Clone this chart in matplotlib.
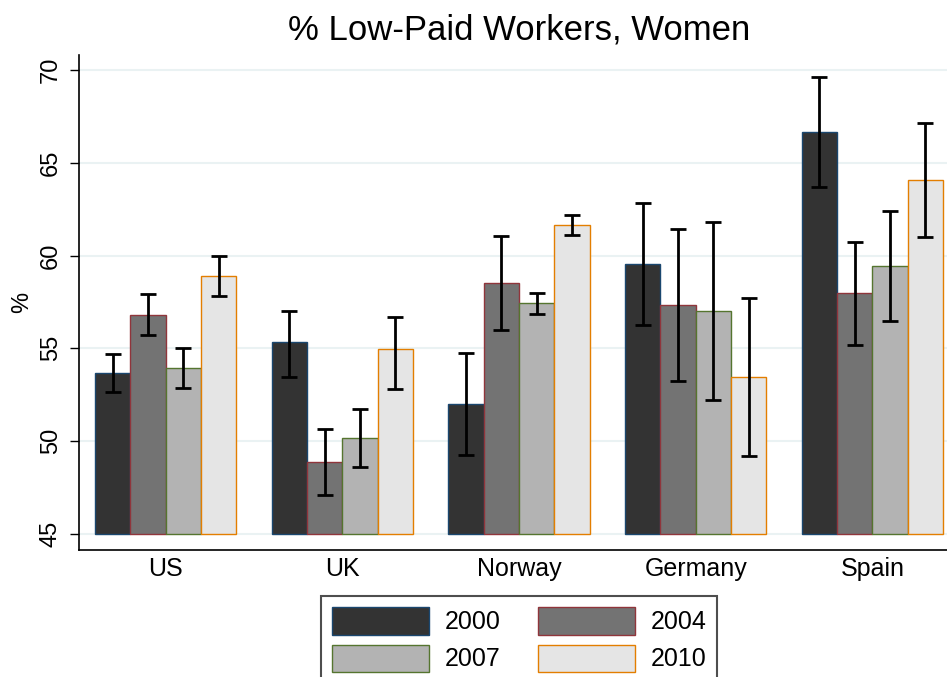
import matplotlib.pyplot as plt
import numpy as np
from matplotlib.patches import Patch

plt.rcParams['font.family'] = ['Liberation Sans', 'DejaVu Sans']

countries = ['US', 'UK', 'Norway', 'Germany', 'Spain']
years = ['2000', '2004', '2007', '2010']

# mean values per year, one entry per country
vals = {
    '2000': [53.67, 55.34, 52.0, 59.55, 66.66],
    '2004': [56.8, 48.88, 58.52, 57.34, 57.98],
    '2007': [53.94, 50.17, 57.45, 57.02, 59.44],
    '2010': [58.9, 54.97, 61.65, 53.46, 64.07],
}
# error bar lower / upper ends
lows = {
    '2000': [52.65, 53.46, 49.26, 56.26, 63.7],
    '2004': [55.72, 47.1, 55.99, 53.24, 55.18],
    '2007': [52.87, 48.6, 56.85, 52.22, 56.48],
    '2010': [57.82, 52.81, 61.11, 49.2, 61.0],
}
highs = {
    '2000': [54.7, 57.01, 54.75, 62.83, 69.62],
    '2004': [57.93, 50.66, 61.06, 61.43, 60.73],
    '2007': [55.02, 51.73, 57.98, 61.81, 62.4],
    '2010': [59.98, 56.69, 62.19, 57.72, 67.14],
}

fills = ['#333333', '#737373', '#b3b3b3', '#e5e5e5']
edges = ['#1a476f', '#90353b', '#55752f', '#e37e00']

fig = plt.figure(figsize=(9.47, 6.77), dpi=100)
ax = fig.add_axes([79/947, 1-550/677, 1-79/947, (550-55)/677])

base = 45
grp = np.arange(len(countries)) * 5
for j, y in enumerate(years):
    x = grp + j
    v = np.array(vals[y])
    ax.bar(x, v - base, bottom=base, width=1.0, color=fills[j],
           edgecolor=edges[j], linewidth=1, zorder=2)
    lo = v - np.array(lows[y])
    hi = np.array(highs[y]) - v
    ax.errorbar(x, v, yerr=[lo, hi], fmt='none', ecolor='black',
                elinewidth=2, capsize=6, capthick=2, zorder=3)

ax.set_xlim(-0.95, 23.61)
ax.set_ylim(44.14, 70.8)
ax.set_yticks([45, 50, 55, 60, 65, 70])
ax.set_yticklabels(['45', '50', '55', '60', '65', '70'], rotation=90, va='center')
ax.set_xticks(grp + 1.5)
ax.set_xticklabels(countries)
ax.tick_params(axis='x', length=0, labelsize=18, pad=5)
ax.tick_params(axis='y', length=6.5, width=1, labelsize=17, pad=6)
ax.grid(axis='y', color='#eaf2f3', linewidth=1.5, zorder=0)
ax.set_axisbelow(True)
for s in ['top', 'right']:
    ax.spines[s].set_visible(False)
ax.spines['left'].set_linewidth(1.2)
ax.spines['bottom'].set_linewidth(1.2)
ax.set_ylabel('%', fontsize=17, labelpad=5)

fig.text(519/947, 1-30/677, '% Low-Paid Workers, Women', ha='center', va='center',
         fontsize=25)

# legend fills column-wise, so order to read row-wise: 2000 2004 / 2007 2010
order = [0, 2, 1, 3]
handles = [Patch(facecolor=fills[j], edgecolor=edges[j], linewidth=1) for j in order]
labels = [years[j] for j in order]
leg = fig.legend(handles, labels, loc='upper center', bbox_to_anchor=(519/947, 1-596/677),
                 ncol=2, fontsize=18, frameon=True, fancybox=False,
                 edgecolor='#222222', handlelength=3.9, handleheight=1.3,
                 handletextpad=0.6, columnspacing=1.5, labelspacing=0.4,
                 borderpad=0.45, borderaxespad=0)
leg.get_frame().set_linewidth(1.5)

fig.savefig('out.png', dpi=100)
